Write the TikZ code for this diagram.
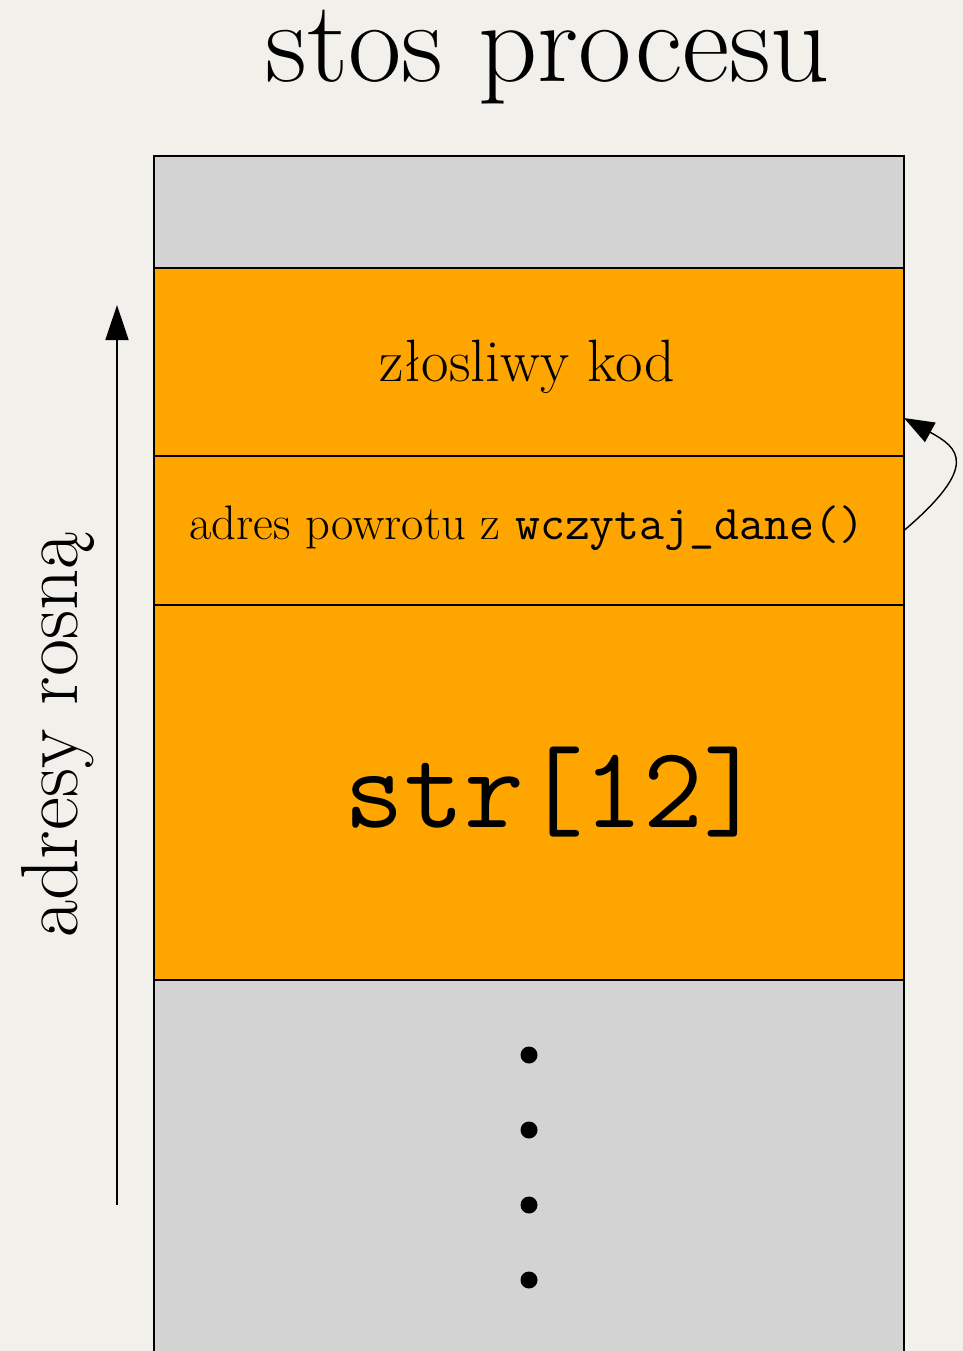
\documentclass[tikz,border=0pt]{standalone}
\usepackage{tikz}
\usetikzlibrary{arrows.meta,positioning,calc}
\definecolor{paperbg}{HTML}{F2F0EB}
\definecolor{frameorange}{HTML}{FFA500}
\definecolor{freegray}{HTML}{D3D3D3}
\tikzset{
  cell/.style={
    draw=black,
    line width=0.8pt,
    minimum width=15cm,
    outer sep=0pt,
    inner sep=0pt,
    align=center
  },
  used/.style={
    cell,
    fill=frameorange
  },
  free/.style={
    cell,
    fill=freegray
  },
  growarrow/.style={
    -{Triangle[length=7mm,width=4.6mm]},
    line width=0.8pt
  },
  retarrow/.style={
    -{Triangle[length=6mm,width=4.4mm]},
    line width=0.8pt
  }
}

\begin{document}
\begin{tikzpicture}
    \fill[paperbg] (0,0) rectangle (19.26,-27.02);
    \useasboundingbox (0,0) rectangle (19.26,-27.02);
    \node[font=\fontsize{66}{72}\selectfont, anchor=base, inner sep=0pt] (title) at (10.96,-1.64) {stos procesu};
    % stack frames, top to bottom
    \node[free, minimum height=2.24cm, anchor=north] (top) at (10.58,-3.12) {};
    \node[used, minimum height=3.76cm, below=0pt of top] (kod) {};
    \node[used, minimum height=2.98cm, below=0pt of kod] (ret) {};
    \node[used, minimum height=7.5cm, below=0pt of ret] (buf) {};
    \node[free, minimum height=7.6cm, below=0pt of buf] (rest) {};
    \node[font=\fontsize{34}{38}\selectfont] (kodname) at ($(kod.center)+(-0.04,-0.1)$) {złosliwy kod};
    \node[font=\fontsize{27.6}{30}\selectfont] (retname) at ($(ret.center)+(-0.04,0.05)$) {adres powrotu z \texttt{wczytaj\_dane()}};
    \node[font=\fontsize{66}{72}\selectfont\ttfamily] (bufname) at ($(buf.center)+(0.5,0)$) {str[12]};
    \foreach \i in {0,...,3}
      \fill ($(rest.north)+(0,-1.5-1.5*\i)$) circle (0.17);
    % direction of growing addresses
    \coordinate (low) at (2.34,-24.10);
    \coordinate (high) at (2.34,-6.10);
    \draw[growarrow] (low) -- (high);
    \node[rotate=90, anchor=base, font=\fontsize{46}{50}\selectfont] (growlabel) at (1.55,-14.7) {adresy rosną};
    % overwritten return address points into the code
    \coordinate (hit) at ($(kod.south east)+(0,0.76)$);
    \draw[retarrow] (ret.east) .. controls +(1.52,1.3) and +(1.1,-0.6) .. (hit);
\end{tikzpicture}
\end{document}
